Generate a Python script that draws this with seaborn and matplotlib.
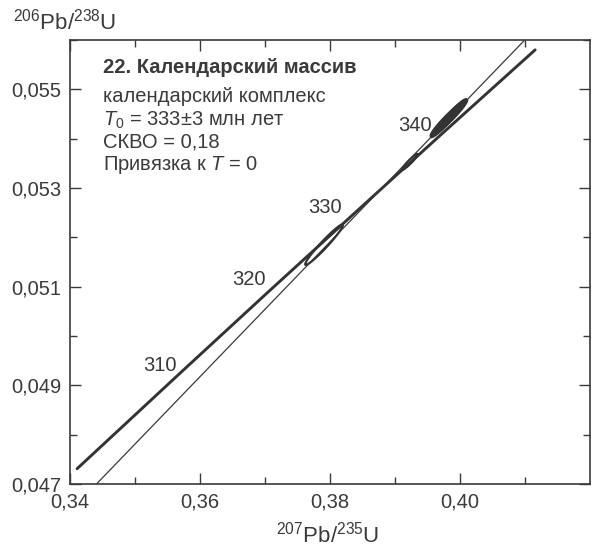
import numpy as np
import pandas as pd
import matplotlib
matplotlib.use("Agg")
import matplotlib.pyplot as plt
import seaborn as sns
from matplotlib.ticker import FixedLocator, FuncFormatter

# ---------------- data ----------------
# Concordia curve points (age, 207Pb/235U, 206Pb/238U)
conc_age = [298, 310, 320, 330, 340, 350]
conc_x = [0.34109, 0.35704, 0.37047, 0.38403, 0.39773, 0.41156]
conc_y = [0.04731, 0.04926, 0.05089, 0.05252, 0.05416, 0.05580]

# Ages labelled on the concordia
label_ages = [310, 320, 330, 340]

# Discordia: anchored at T = 0 (origin) and upper intercept T0 = 333 Ma
disc_x = [0.0, 0.38811]
disc_y = [0.0, 0.053015]

# Analyses (error ellipses): centre, half-widths, correlation
ell_x = [0.37908, 0.3923, 0.3976, 0.3990, 0.3983]
ell_y = [0.05185, 0.05353, 0.05432, 0.05452, 0.05442]
ell_sx = [0.0029, 0.0012, 0.0021, 0.0020, 0.0028]
ell_sy = [0.00041, 0.00016, 0.00029, 0.00028, 0.00037]
ell_rho = [0.968, 0.95, 0.95, 0.95, 0.96]
ell_filled = [False, False, True, True, False]

x_major = [0.34, 0.36, 0.38, 0.40]
x_minor = [0.35, 0.37, 0.39, 0.41]
y_major = [0.047, 0.049, 0.051, 0.053, 0.055]
y_minor = [0.048, 0.050, 0.052, 0.054, 0.056]

title_lines = ["22. Календарский массив", "календарский комплекс",
               "$T_0$ = 333±3 млн лет", "СКВО = 0,18", "Привязка к $T$ = 0"]

# ---------------- style ----------------
sns.set_theme(style="ticks")
plt.rcParams["font.family"] = ["Liberation Sans", "DejaVu Sans"]
plt.rcParams["mathtext.fontset"] = "custom"
plt.rcParams["mathtext.rm"] = "Liberation Sans"
plt.rcParams["mathtext.it"] = "Liberation Sans:italic"
plt.rcParams["mathtext.bf"] = "Liberation Sans:bold"

ink = "#3a3a3a"
fs = 14.5

fig = plt.figure(figsize=(5.98, 5.51), dpi=100)
ax = fig.add_axes([70 / 598, 1 - 484 / 551, 520 / 598, 444 / 551])

conc = pd.DataFrame({"x": conc_x, "y": conc_y, "age": conc_age})
sns.lineplot(data=conc, x="x", y="y", sort=False, estimator=None,
             color="#333333", linewidth=2.1, ax=ax)

ax.axline((disc_x[0], disc_y[0]), (disc_x[1], disc_y[1]),
          color="#3a3a3a", linewidth=0.9)

t = np.linspace(0, 2 * np.pi, 200)
for cx, cy, sx, sy, r, f in zip(ell_x, ell_y, ell_sx, ell_sy, ell_rho, ell_filled):
    ex = cx + sx * np.cos(t)
    ey = cy + sy * (r * np.cos(t) + np.sqrt(1 - r ** 2) * np.sin(t))
    if f:
        ax.fill(ex, ey, color="#333333", linewidth=0, zorder=3)
    ax.plot(ex, ey, color="#333333", linewidth=1.6, zorder=3)

# age labels
offsets = {310: (-3, 5), 320: (-2, 9), 330: (-10, 3), 340: (-10, 4)}
for a in label_ages:
    i = conc_age.index(a)
    dx, dy = offsets[a]
    ax.annotate(str(a), (conc_x[i], conc_y[i]), xytext=(dx, dy),
                textcoords="offset points", ha="right", va="center",
                fontsize=fs, color=ink)

# text block
ys = [0.937, 0.872, 0.820, 0.770, 0.718]
for k, (s, yy) in enumerate(zip(title_lines, ys)):
    ax.text(0.0635, yy, s, transform=ax.transAxes, ha="left", va="center",
            fontsize=fs, color=ink, fontweight="bold" if k == 0 else "normal")

ax.set_xlim(0.34, 0.42)
ax.set_ylim(0.047, 0.056)
ax.xaxis.set_major_locator(FixedLocator(x_major))
ax.xaxis.set_minor_locator(FixedLocator(x_minor))
ax.yaxis.set_major_locator(FixedLocator(y_major))
ax.yaxis.set_minor_locator(FixedLocator(y_minor))
ax.xaxis.set_major_formatter(FuncFormatter(lambda v, p: f"{v:.2f}".replace(".", ",")))
ax.yaxis.set_major_formatter(FuncFormatter(lambda v, p: f"{v:.3f}".replace(".", ",")))
ax.tick_params(which="both", direction="in", top=True, right=True,
               color=ink, width=1.0, labelsize=fs, labelcolor=ink)
ax.tick_params(which="major", length=8, pad=6)
ax.tick_params(which="minor", length=5)
for sp in ax.spines.values():
    sp.set_color(ink)
    sp.set_linewidth(1.2)
ax.set_xlabel("")
ax.set_ylabel("")

fig.text(13 / 598, 1 - 22 / 551, r"$^{206}$Pb/$^{238}$U", ha="left", va="center",
         fontsize=fs + 1.5, color=ink)
fig.text(328 / 598, 1 - 535 / 551, r"$^{207}$Pb/$^{235}$U", ha="center", va="center",
         fontsize=fs + 1.5, color=ink)

fig.savefig("out.png", dpi=100)
